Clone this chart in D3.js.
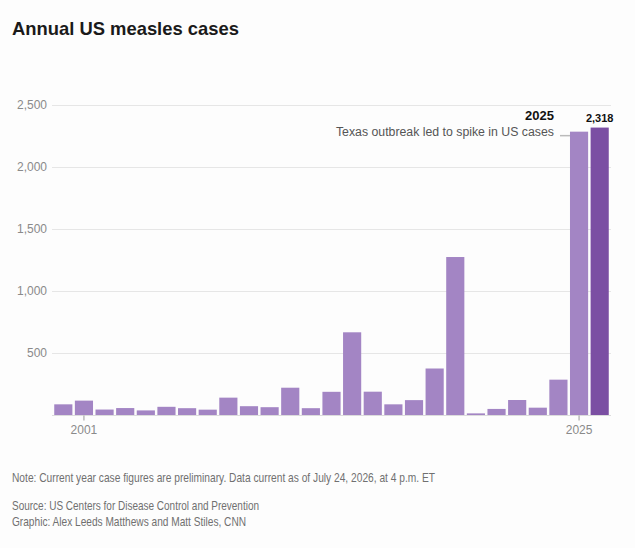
<!DOCTYPE html>
<html>
<head>
<meta charset="utf-8">
<script src="https://cdn.jsdelivr.net/npm/d3@7"></script>
<style>
  body { margin: 0; background: #fdfdfd; }
  #chart text { font-family: "Liberation Sans", Arial, sans-serif; }
</style>
</head>
<body>
<svg id="chart"></svg>
<script>
  // values
  const years = [2000, 2001, 2002, 2003, 2004, 2005, 2006, 2007, 2008, 2009,
                 2010, 2011, 2012, 2013, 2014, 2015, 2016, 2017, 2018, 2019,
                 2020, 2021, 2022, 2023, 2024, 2025, 2026];
  const cases = [86, 116, 44, 56, 37, 66, 55, 43, 140, 71,
                 63, 220, 55, 187, 667, 188, 86, 120, 375, 1274,
                 13, 49, 121, 59, 285, 2285, 2318];
  const yTicks = [500, 1000, 1500, 2000, 2500];
  const xTicks = [2001, 2025];
  const currentYear = 2026;

  const config = {
    width: 635, height: 548,
    left: 53, right: 610,
    top: 105, bottom: 415
  };

  const svg = d3.select("#chart")
    .attr("width", config.width)
    .attr("height", config.height);

  const x = d3.scaleBand()
    .domain(years)
    .range([config.left, config.right])
    .paddingInner(0.12)
    .paddingOuter(0.06);

  const y = d3.scaleLinear()
    .domain([0, 2500])
    .range([config.bottom, config.top]);

  // title
  svg.append("text")
    .attr("x", 12).attr("y", 35)
    .attr("font-size", 18.4).attr("font-weight", "bold")
    .attr("fill", "#1a1a1a")
    .text("Annual US measles cases");

  // grid + y labels
  const yAxis = svg.append("g")
    .attr("transform", `translate(${config.left - 1},0)`)
    .call(d3.axisLeft(y).tickValues(yTicks).tickFormat(d3.format(",")).tickSize(-(config.right - config.left + 2)).tickPadding(5))
    .call(g => g.select(".domain").remove());
  yAxis.selectAll(".tick line").attr("stroke", "#e6e6e6");
  yAxis.selectAll(".tick text").attr("fill", "#8a8a8a").attr("font-size", 12);

  // bars
  svg.append("g")
    .selectAll("rect")
    .data(years)
    .join("rect")
    .attr("x", d => x(d))
    .attr("width", x.bandwidth())
    .attr("y", (d, i) => y(cases[i]))
    .attr("height", (d, i) => y(0) - y(cases[i]))
    .attr("fill", d => d === currentYear ? "#7b4fa3" : "#a385c4");

  // x axis
  const xAxis = svg.append("g")
    .attr("transform", `translate(0,${config.bottom + 0.5})`)
    .call(d3.axisBottom(x).tickValues(xTicks).tickSizeOuter(0).tickSize(5).tickPadding(5));
  xAxis.select(".domain").attr("stroke", "#dcdcdc").attr("d", `M${config.left - 1},0H${config.right + 1}`);
  xAxis.selectAll(".tick line").attr("stroke", "#999");
  xAxis.selectAll(".tick text").attr("fill", "#8a8a8a").attr("font-size", 12);

  // annotation for 2025
  const i25 = years.indexOf(2025);
  const i26 = years.indexOf(currentYear);
  const annX = x(2025) - 16;
  const annY = y(cases[i25]) + 4;
  svg.append("line")
    .attr("x1", annX + 6).attr("x2", x(2025))
    .attr("y1", annY).attr("y2", annY)
    .attr("stroke", "#bbb").attr("stroke-width", 1.5);
  svg.append("text")
    .attr("x", annX).attr("y", annY - 16)
    .attr("text-anchor", "end")
    .attr("font-size", 13).attr("font-weight", "bold").attr("fill", "#111")
    .text("2025");
  svg.append("text")
    .attr("x", annX).attr("y", annY)
    .attr("text-anchor", "end")
    .attr("font-size", 12.3).attr("fill", "#555")
    .text("Texas outbreak led to spike in US cases");

  svg.append("text")
    .attr("x", x(currentYear) + x.bandwidth() / 2)
    .attr("y", y(cases[i26]) - 6)
    .attr("text-anchor", "middle")
    .attr("font-size", 11).attr("font-weight", "bold").attr("fill", "#111")
    .text(d3.format(",")(cases[i26]));

  // footer (condensed face in the original, squeezed to the same width)
  const foot = [
    ["Note: Current year case figures are preliminary. Data current as of July 24, 2026, at 4 p.m. ET", 482, 423],
    ["Source: US Centers for Disease Control and Prevention", 510, 247],
    ["Graphic: Alex Leeds Matthews and Matt Stiles, CNN", 526, 234]
  ];
  svg.append("g").selectAll("text")
    .data(foot)
    .join("text")
    .attr("x", 12).attr("y", d => d[1])
    .attr("font-size", 13).attr("fill", "#707070")
    .attr("textLength", d => d[2])
    .attr("lengthAdjust", "spacingAndGlyphs")
    .text(d => d[0]);
</script>
</body>
</html>
